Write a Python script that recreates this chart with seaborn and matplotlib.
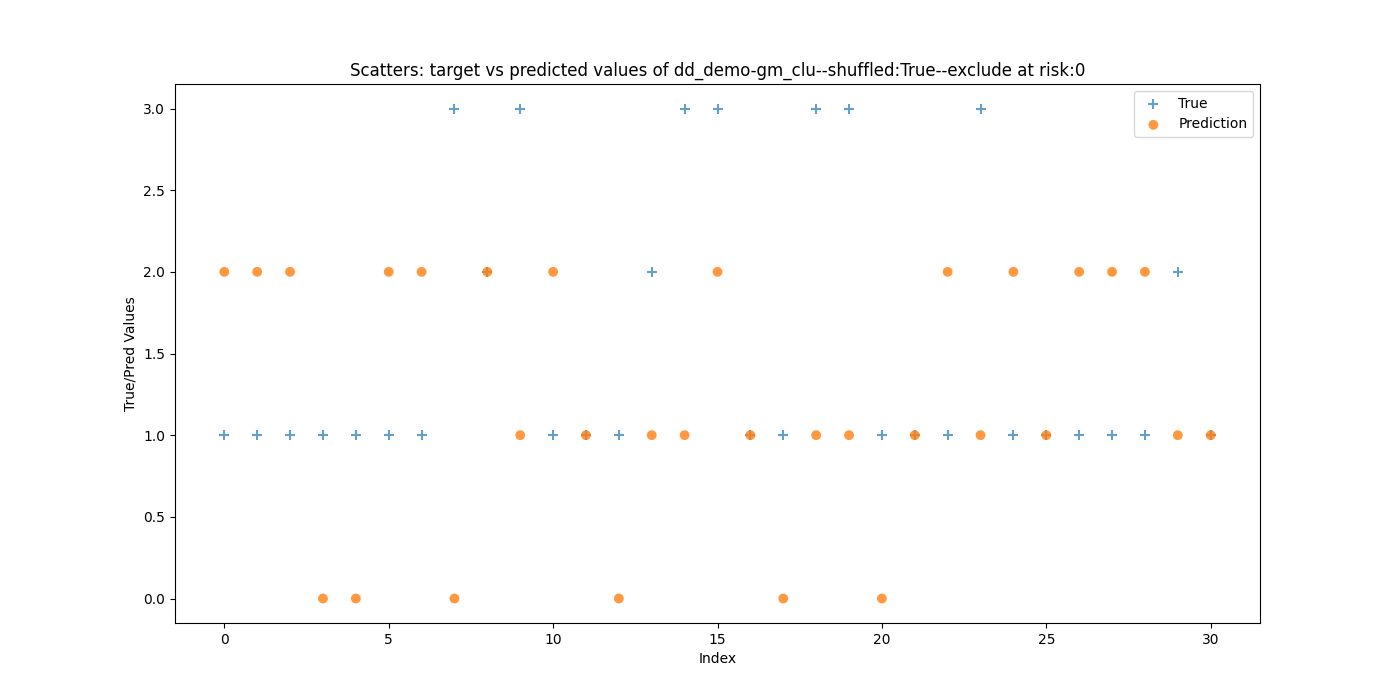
import matplotlib
matplotlib.use("Agg")
import matplotlib.pyplot as plt
import pandas as pd
import seaborn as sns

y_true = [1, 1, 1, 1, 1, 1, 1, 3, 2, 3, 1, 1, 1, 2, 3, 3, 1, 1, 3, 3, 1, 1, 1, 3, 1, 1, 1, 1, 1, 2, 1]
y_pred = [2, 2, 2, 0, 0, 2, 2, 0, 2, 1, 2, 1, 0, 1, 1, 2, 1, 0, 1, 1, 0, 1, 2, 1, 2, 1, 2, 2, 2, 1, 1]
index = list(range(len(y_true)))

df = pd.DataFrame({"Index": index, "True": y_true, "Prediction": y_pred})

fig, ax = plt.subplots(figsize=(14, 7), dpi=100)
sns.scatterplot(data=df, x="Index", y="True", marker="+", s=50, linewidth=1.5,
                color="#1f77b4", alpha=0.7, label="True", ax=ax)
sns.scatterplot(data=df, x="Index", y="Prediction", marker="o", s=50, edgecolor="none",
                color="#ff7f0e", alpha=0.8, label="Prediction", ax=ax)
ax.set_xlabel("Index")
ax.set_ylabel("True/Pred Values")
ax.set_title("Scatters: target vs predicted values of dd_demo-gm_clu--shuffled:True--exclude at risk:0")
ax.legend(loc="upper right")
fig.savefig("out.png")
